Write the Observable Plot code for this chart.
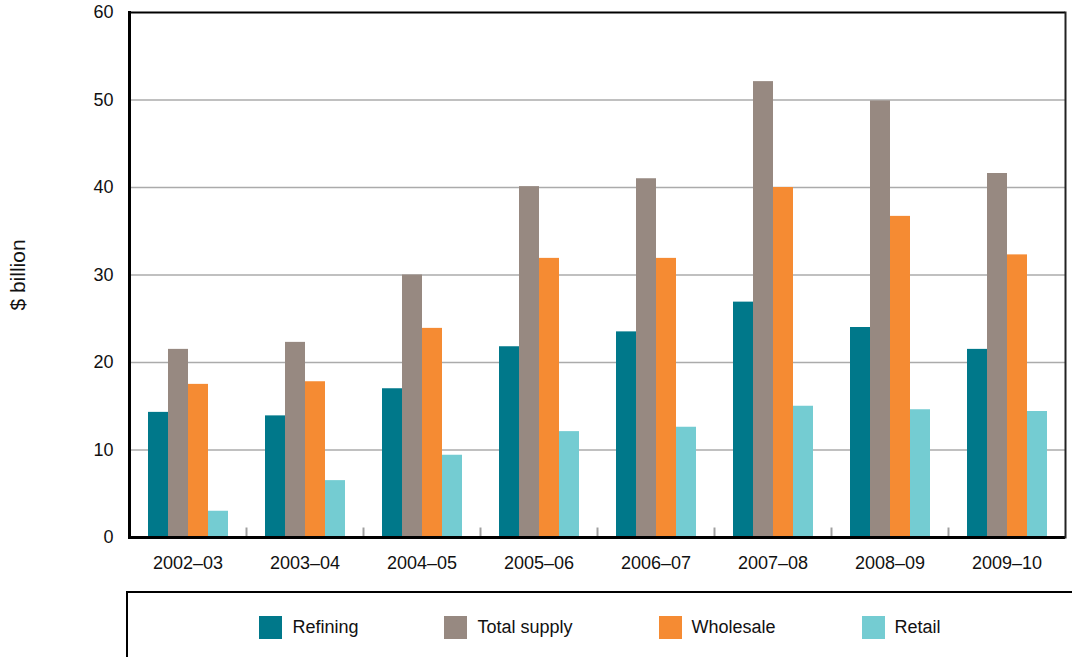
<!DOCTYPE html>
<html>
<head>
<meta charset="utf-8">
<script src="https://cdn.jsdelivr.net/npm/d3@7"></script>
<script src="https://cdn.jsdelivr.net/npm/@observablehq/plot@0.6"></script>
<style>
  html, body { margin: 0; padding: 0; background: #fff; overflow: hidden; }
  body { font-family: "Liberation Sans", Arial, sans-serif; width: 1072px; height: 657px; }
  #chart svg { display: block; }
  #legend {
    margin-left: 126px; margin-top: 11px; width: 946px; height: 100px;
    box-sizing: border-box; border-top: 2px solid #000; border-left: 2px solid #000;
    display: flex; justify-content: center; align-items: flex-start; gap: 86px;
    padding-top: 23px; font-size: 18px; color: #111;
  }
  .item { display: flex; align-items: center; gap: 10px; }
  .sw { width: 23px; height: 23px; display: inline-block; }
</style>
</head>
<body>
<div id="chart"></div>
<div id="legend"></div>
<script>
const categories = ["2002–03", "2003–04", "2004–05", "2005–06", "2006–07", "2007–08", "2008–09", "2009–10"];
const series = ["Refining", "Total supply", "Wholesale", "Retail"];
const refining    = [14.3, 13.9, 17.0, 21.8, 23.5, 26.9, 24.0, 21.5];
const totalSupply = [21.5, 22.3, 30.0, 40.1, 41.0, 52.1, 49.9, 41.6];
const wholesale   = [17.5, 17.8, 23.9, 31.9, 31.9, 40.0, 36.7, 32.3];
const retail      = [3.0, 6.5, 9.4, 12.1, 12.6, 15.0, 14.6, 14.4];
const colors = ["#00788a", "#978981", "#f58b33", "#74ccd2"];
const yTicks = [0, 10, 20, 30, 40, 50, 60];
const gridValues = [10, 20, 30, 40, 50];

const seriesValues = [refining, totalSupply, wholesale, retail];
const rows = [];
categories.forEach((cat, i) => {
  series.forEach((s, j) => rows.push({cat, series: s, value: seriesValues[j][i]}));
});

const chart = Plot.plot({
  width: 1072,
  height: 580,
  marginTop: 12,
  marginBottom: 43,
  marginLeft: 126,
  marginRight: 5,
  style: {fontFamily: "'Liberation Sans', Arial, sans-serif", fontSize: "18px", color: "#111", background: "#fff"},
  fx: {domain: categories, padding: 0, label: null},
  x: {domain: series, paddingInner: 0, paddingOuter: 0.8, axis: null},
  y: {domain: [0, 60]},
  color: {domain: series, range: colors},
  marks: [
    Plot.ruleY(gridValues, {stroke: "#ababab", strokeWidth: 1.5}),
    Plot.barY(rows, {fx: "cat", x: "series", y: "value", fill: "series"}),
    Plot.frame({anchor: "left", insetTop: 516, stroke: "#a0a0a0", strokeWidth: 2}),
    Plot.ruleY([60], {stroke: "#000", strokeWidth: 2}),
    Plot.ruleY([0], {stroke: "#000", strokeWidth: 3}),
    Plot.frame({anchor: "left", facetAnchor: "left", stroke: "#000", strokeWidth: 3}),
    Plot.frame({anchor: "right", facetAnchor: "right", stroke: "#222", strokeWidth: 2}),
    Plot.axisY({ticks: yTicks, tickSize: 0, tickPadding: 16, label: null}),
    Plot.axisY({ticks: [], tickSize: 0, label: "$ billion", labelArrow: "none", labelAnchor: "center", labelOffset: 119, fontSize: 21}),
    Plot.axisFx({anchor: "bottom", tickSize: 0, tickPadding: 19, label: null})
  ]
});
document.getElementById("chart").appendChild(chart);

const legend = document.getElementById("legend");
series.forEach((s, j) => {
  const item = document.createElement("div");
  item.className = "item";
  const sw = document.createElement("span");
  sw.className = "sw";
  sw.style.background = colors[j];
  const t = document.createElement("span");
  t.textContent = s;
  item.appendChild(sw);
  item.appendChild(t);
  legend.appendChild(item);
});
</script>
</body>
</html>
